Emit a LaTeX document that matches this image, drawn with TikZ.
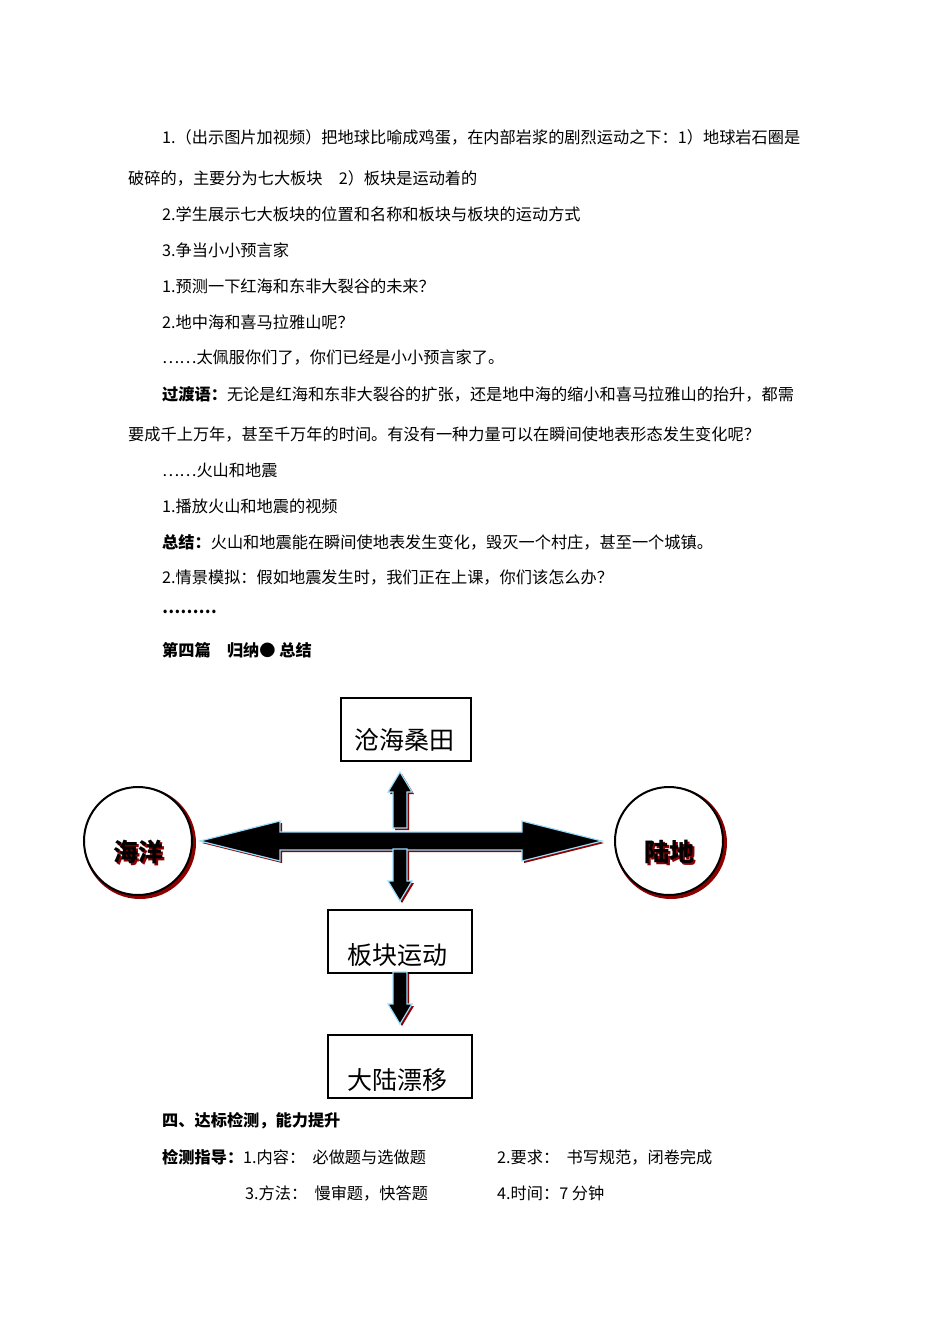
\documentclass[tikz,border=0pt]{standalone}
\usepackage{fontspec}
\setmainfont{Noto Sans CJK SC}
\newfontfamily\cjk{Noto Sans CJK SC}
\begin{document}
\begin{tikzpicture}[x=1pt,y=-1pt,
  txt/.style={anchor=west,inner sep=0pt,font=\fontsize{16.2}{18}\selectfont},
  boxn/.style={draw,line width=2pt,minimum width=130pt,minimum height=63pt,inner sep=0pt,font=\fontsize{25}{30}\selectfont},
  circ/.style={draw,line width=2pt,circle,minimum size=108pt,font=\fontsize{25}{30}\selectfont\bfseries},
  arr/.style={fill=black,draw=blue!30!cyan!40,line width=1.2pt},
  shad/.style={fill=red!55!black}]
\useasboundingbox (0,0) rectangle (950,1344);
\node[txt] (t1) at (162,137) {1.（出示图片加视频）把地球比喻成鸡蛋，在内部岩浆的剧烈运动之下：1）地球岩石圈是};
\node[txt] (t2) at (128,178) {破碎的，主要分为七大板块\quad 2）板块是运动着的};
\node[txt] (t3) at (162,214) {2.学生展示七大板块的位置和名称和板块与板块的运动方式};
\node[txt] (t4) at (162,250) {3.争当小小预言家};
\node[txt] (t5) at (162,286) {1.预测一下红海和东非大裂谷的未来？};
\node[txt] (t6) at (162,322) {2.地中海和喜马拉雅山呢？};
\node[txt] (t7) at (162,358) {……太佩服你们了，你们已经是小小预言家了。};
\node[txt] (t8) at (162,394) {\textbf{过渡语：}无论是红海和东非大裂谷的扩张，还是地中海的缩小和喜马拉雅山的抬升，都需};
\node[txt] (t9) at (128,434) {要成千上万年，甚至千万年的时间。有没有一种力量可以在瞬间使地表形态发生变化呢？};
\node[txt] (t10) at (162,470) {……火山和地震};
\node[txt] (t11) at (162,506) {1.播放火山和地震的视频};
\node[txt] (t12) at (162,542) {\textbf{总结：}火山和地震能在瞬间使地表发生变化，毁灭一个村庄，甚至一个城镇。};
\node[txt] (t13) at (162,578) {2.情景模拟：假如地震发生时，我们正在上课，你们该怎么办？};
\node[txt] (t14) at (162,612) {\textbf{………}};
\node[txt] (t15) at (162,650) {\textbf{第四篇\quad 归纳●\ 总结}};
% diagram
\node[boxn] (top) at (406,729) {};
\node[font=\fontsize{25}{30}\selectfont] (topt) at (404,740) {沧海桑田};
\node[boxn,minimum width=144pt,anchor=north west] (plate) at (327,909) {};
\node[font=\fontsize{25}{30}\selectfont] (platet) at (397,955) {板块运动};
\node[boxn,minimum width=144pt,anchor=north west] (drift) at (327,1034) {};
\node[font=\fontsize{25}{30}\selectfont] (driftt) at (397,1080) {大陆漂移};
\fill[red!55!black] (140,843) circle (56);
\node[circ,fill=white] (sea) at (138,841) {};
\fill[red!55!black] (671,843) circle (56);
\node[circ,fill=white] (land) at (669,841) {};
\node[font=\fontsize{25}{30}\selectfont\bfseries,text=red!55!black] at (140,854) {海洋};
\node[font=\fontsize{25}{30}\selectfont\bfseries] (seat) at (138,852) {海洋};
\node[font=\fontsize{25}{30}\selectfont\bfseries,text=red!55!black] at (671,854) {陆地};
\node[font=\fontsize{25}{30}\selectfont\bfseries] (landt) at (669,852) {陆地};
% arrows
\foreach \d/\s in {2/shad,0/arr}{
\path[\s] ([shift={(\d,\d)}]200,841) -- ++(80,-20) -- ++(0,11) -- ++(242,0) -- ++(0,-11) -- ++(80,20) -- ++(-80,20) -- ++(0,-11) -- ++(-242,0) -- ++(0,11) -- cycle;
\path[\s] ([shift={(\d,\d)}]400,772) -- ++(12,20) -- ++(-5,0) -- ++(0,36) -- ++(-14,0) -- ++(0,-36) -- ++(-5,0) -- cycle;
\path[\s] ([shift={(\d,\d)}]400,901) -- ++(12,-20) -- ++(-5,0) -- ++(0,-32) -- ++(-14,0) -- ++(0,32) -- ++(-5,0) -- cycle;
\path[\s] ([shift={(\d,\d)}]400,1024) -- ++(12,-20) -- ++(-5,0) -- ++(0,-32) -- ++(-14,0) -- ++(0,32) -- ++(-5,0) -- cycle;
}
\node[txt] (t16) at (162,1121) {\textbf{四、达标检测，能力提升}};
\node[txt] (t17) at (162,1157) {\textbf{检测指导：}1.内容：\ \ 必做题与选做题};
\node[txt] (t18) at (497,1157) {2.要求：\ \ 书写规范，闭卷完成};
\node[txt] (t19) at (245,1193) {3.方法：\ \ 慢审题，快答题};
\node[txt] (t20) at (497,1193) {4.时间：7 分钟};
\end{tikzpicture}
\end{document}
